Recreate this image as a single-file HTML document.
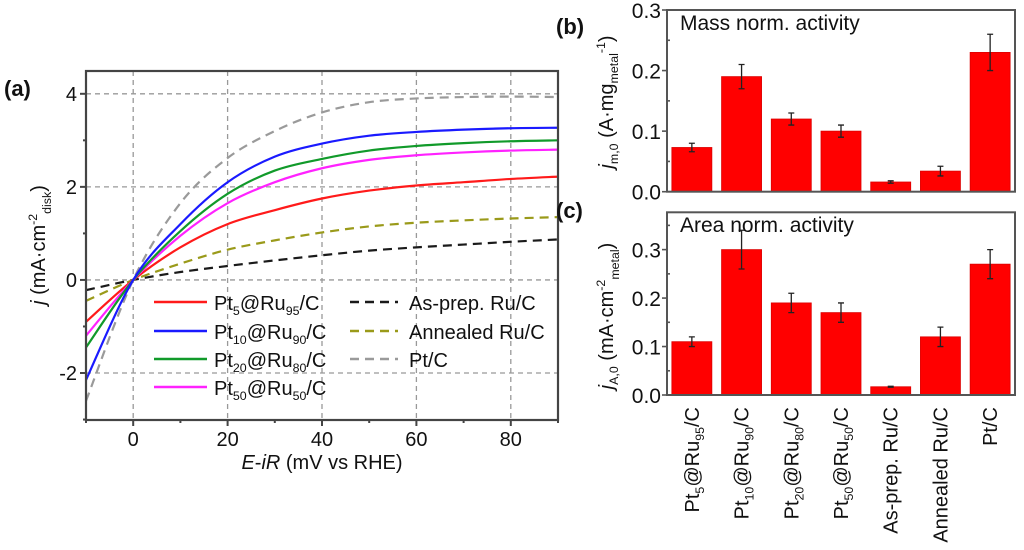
<!DOCTYPE html>
<html><head><meta charset="utf-8"><style>
html,body{margin:0;padding:0;background:#fff;}
svg{display:block;font-family:"Liberation Sans",Arial,sans-serif;}
</style></head><body>
<svg id="fig" width="1024" height="550" viewBox="0 0 1024 550">
<g id="pa"></g>
<g id="pb"></g>
<g id="pc"></g>
</svg>
<script>
// Panel (a) data
const xs = [-10, 0, 10, 20, 30, 40, 50, 60, 70, 80, 90];
const blueY = [-2.15, 0, 1.2, 2.1, 2.65, 2.93, 3.1, 3.18, 3.23, 3.26, 3.27];
const greenY = [-1.45, 0, 1.05, 1.85, 2.35, 2.6, 2.78, 2.88, 2.94, 2.98, 3.0];
const magentaY = [-1.2, 0, 0.95, 1.65, 2.1, 2.4, 2.58, 2.68, 2.74, 2.78, 2.8];
const redY = [-0.9, 0, 0.7, 1.2, 1.5, 1.75, 1.92, 2.03, 2.1, 2.17, 2.22];
const annealedY = [-0.45, 0, 0.35, 0.65, 0.85, 1.02, 1.15, 1.23, 1.28, 1.32, 1.35];
const asprepY = [-0.22, 0, 0.17, 0.3, 0.42, 0.53, 0.63, 0.7, 0.76, 0.82, 0.87];
const ptcY = [-2.6, 0, 1.65, 2.62, 3.2, 3.6, 3.82, 3.9, 3.93, 3.94, 3.93];
const xTicksA = [0, 20, 40, 60, 80];
const yTicksA = [-2, 0, 2, 4];
// Panels (b),(c) data
const cats = ["Pt5@Ru95/C","Pt10@Ru90/C","Pt20@Ru80/C","Pt50@Ru50/C","As-prep. Ru/C","Annealed Ru/C","Pt/C"];
const massVals = [0.073, 0.19, 0.12, 0.10, 0.016, 0.034, 0.23];
const massErr = [0.007, 0.02, 0.01, 0.01, 0.002, 0.008, 0.03];
const areaVals = [0.11, 0.30, 0.19, 0.17, 0.017, 0.12, 0.27];
const areaErr = [0.01, 0.04, 0.02, 0.02, 0.001, 0.02, 0.03];
const yTicksB = [0.0, 0.1, 0.2, 0.3];
const yTicksC = [0.0, 0.1, 0.2, 0.3];

const NS = "http://www.w3.org/2000/svg";
function mk(parent, tag, attrs, text){
  const e = document.createElementNS(NS, tag);
  for (const k in attrs) e.setAttribute(k, attrs[k]);
  if (text !== undefined) e.textContent = text;
  parent.appendChild(e);
  return e;
}

// ---------- Panel A ----------
const A = {l:86, r:558, t:71, b:420, x0:-10, x1:90, y0:-3.01, y1:4.49};
const ax = v => A.l + (v - A.x0) / (A.x1 - A.x0) * (A.r - A.l);
const ay = v => A.b - (v - A.y0) / (A.y1 - A.y0) * (A.b - A.t);
const pa = document.getElementById("pa");
const cp = mk(mk(pa, "defs", {}), "clipPath", {id:"clipA"});
mk(cp, "rect", {x:A.l, y:A.t, width:A.r-A.l, height:A.b-A.t});

xTicksA.forEach(v => {
  const g = mk(pa, "line", {x1:ax(v), x2:ax(v), y1:A.t, y2:A.b, stroke:"#999", "stroke-width":1.3, "stroke-dasharray":"5,4"});
  
  
});
yTicksA.forEach(v => {
  const g = mk(pa, "line", {x1:A.l, x2:A.r, y1:ay(v), y2:ay(v), stroke:"#999", "stroke-width":1.3, "stroke-dasharray":"5,4"});
  
  
});

function smoothPath(xv, yv, fx, fy){
  const p = xv.map((x,i)=>[fx(x), fy(yv[i])]);
  let d = "M" + p[0][0] + "," + p[0][1];
  for (let i=0;i<p.length-1;i++){
    const p0 = p[i-1]||p[i], p1=p[i], p2=p[i+1], p3=p[i+2]||p2;
    const c1x = p1[0]+(p2[0]-p0[0])/6, c1y = p1[1]+(p2[1]-p0[1])/6;
    const c2x = p2[0]-(p3[0]-p1[0])/6, c2y = p2[1]-(p3[1]-p1[1])/6;
    d += " C"+c1x+","+c1y+" "+c2x+","+c2y+" "+p2[0]+","+p2[1];
  }
  return d;
}
const series = [
  {y:asprepY, c:"#1a1a1a", dash:"9,6", n:"asprep-ru-line"},
  {y:annealedY, c:"#9a9a1a", dash:"9,6", n:"annealed-ru-line"},
  {y:ptcY, c:"#9a9a9a", dash:"9,6", n:"pt-c-line"},
  {y:redY, c:"#ff1a1a", dash:"", n:"pt5-ru95-line"},
  {y:magentaY, c:"#ff22ff", dash:"", n:"pt50-ru50-line"},
  {y:greenY, c:"#119a2a", dash:"", n:"pt20-ru80-line"},
  {y:blueY, c:"#1a1aff", dash:"", n:"pt10-ru90-line"},
];
const cg = mk(pa, "g", {"clip-path":"url(#clipA)"});
series.forEach(s => {
  const attrs = {d:smoothPath(xs, s.y, ax, ay), fill:"none", stroke:s.c, "stroke-width":2.2};
  if (s.dash) attrs["stroke-dasharray"] = s.dash;
  const p = mk(cg, "path", attrs);
  
  
});
mk(pa, "rect", {x:A.l, y:A.t, width:A.r-A.l, height:A.b-A.t, fill:"none", stroke:"#444", "stroke-width":2.2,  });
for (let v=-10; v<=90; v+=10){
  const len = (v % 20 === 0) ? 6 : 3;
  mk(pa, "line", {x1:ax(v), x2:ax(v), y1:A.b, y2:A.b+len, stroke:"#444", "stroke-width":2});
}
for (let v=-3; v<=4; v+=1){
  const len = (v % 2 === 0) ? 6 : 3;
  mk(pa, "line", {x1:A.l-len, x2:A.l, y1:ay(v), y2:ay(v), stroke:"#444", "stroke-width":2});
}
xTicksA.forEach(v => {
  const t = mk(pa, "text", {x:ax(v), y:446, "font-size":20, "text-anchor":"middle", fill:"#111"}, String(v));
  
  
});
yTicksA.forEach(v => {
  const t = mk(pa, "text", {x:A.l-9, y:ay(v)+7, "font-size":20, "text-anchor":"end", fill:"#111"}, String(v));
  
  
});
const xt = mk(pa, "text", {x:322, y:469, "font-size":20, "text-anchor":"middle", fill:"#111",  });
xt.innerHTML = '<tspan font-style="italic">E</tspan>-<tspan font-style="italic">iR</tspan> (mV vs RHE)';
const yt = mk(pa, "text", {transform:"translate(45,245) rotate(-90)", "font-size":20, "text-anchor":"middle", fill:"#111",  });
yt.innerHTML = '<tspan font-style="italic">j</tspan> (mA·cm<tspan font-size="0.62em" dy="-8">-2</tspan><tspan font-size="0.62em" dy="14">disk</tspan><tspan dy="-6">)</tspan>';
mk(pa, "text", {x:4, y:96, "font-size":22, "font-weight":"bold", fill:"#111",  }, "(a)");

// legend
const leg = mk(pa, "g", { });
const legL = [
  {c:"#ff1a1a", a:"5", b:"95", y:302},
  {c:"#1a1aff", a:"10", b:"90", y:331},
  {c:"#119a2a", a:"20", b:"80", y:359},
  {c:"#ff22ff", a:"50", b:"50", y:387},
];
legL.forEach(e => {
  mk(leg, "line", {x1:154, x2:207, y1:e.y, y2:e.y, stroke:e.c, "stroke-width":2.4});
  const t = mk(leg, "text", {x:214, y:e.y+8, "font-size":20, fill:"#111",  });
  t.innerHTML = 'Pt<tspan font-size="0.62em" dy="5">'+e.a+'</tspan><tspan dy="-5">@Ru</tspan><tspan font-size="0.62em" dy="5">'+e.b+'</tspan><tspan dy="-5">/C</tspan>';
});
const legR = [
  {c:"#1a1a1a", t:"As-prep. Ru/C", y:302},
  {c:"#9a9a1a", t:"Annealed Ru/C", y:331},
  {c:"#9a9a9a", t:"Pt/C", y:359},
];
legR.forEach(e => {
  mk(leg, "line", {x1:350, x2:398, y1:e.y, y2:e.y, stroke:e.c, "stroke-width":2.4, "stroke-dasharray":"9,6"});
  mk(leg, "text", {x:409, y:e.y+8, "font-size":20, fill:"#111",  }, e.t);
});

// ---------- Bar panels ----------
function barPanel(g, box, vals, errs, ticks, yMax, title, titleY, letter, letterY){
  const by = v => box.b - v / yMax * (box.b - box.t);
  const bw = (box.r - box.l) / cats.length;
  const bx = i => box.l + bw * (i + 0.5);
  vals.forEach((v,i) => {
    const r = mk(g, "rect", {x:bx(i)-20, y:by(v), width:40, height:box.b-by(v), fill:"#ff0000", stroke:"#d00", "stroke-width":0.8});
    
    
    const e = errs[i];
    const eb = mk(g, "path", {d:"M"+bx(i)+","+by(v+e)+" V"+by(v-e)+" M"+(bx(i)-3)+","+by(v+e)+" h6 M"+(bx(i)-3)+","+by(v-e)+" h6", stroke:"#222", "stroke-width":1.3, fill:"none"});
    
    
  });
  mk(g, "rect", {x:box.l, y:box.t, width:box.r-box.l, height:box.b-box.t, fill:"none", stroke:"#555", "stroke-width":2});
  for (let v=0; v<=yMax+1e-9; v+=0.05){
    const major = Math.abs(v*10 - Math.round(v*10)) < 1e-6;
    mk(g, "line", {x1:box.l-(major?5:0), x2:box.l+(major?0:3), y1:by(v), y2:by(v), stroke:"#555", "stroke-width":1.6});
  }
  ticks.forEach(v => {
    const t = mk(g, "text", {x:box.l-6, y:by(v)+8, "font-size":21, "text-anchor":"end", fill:"#111"}, v.toFixed(1));
    
    
  });
  mk(g, "text", {x:680, y:titleY, "font-size":21, fill:"#111",  }, title);
  mk(g, "text", {x:556, y:letterY, "font-size":22, "font-weight":"bold", fill:"#111",  }, letter);
  return bx;
}
const pb = document.getElementById("pb");
const B = {l:667, r:1015, t:10, b:191.7};
barPanel(pb, B, massVals, massErr, yTicksB, 0.3, "Mass norm. activity", 30, "(b)", 34);
const ytb = mk(pb, "text", {transform:"translate(613,102) rotate(-90)", "font-size":20, "text-anchor":"middle", fill:"#111",  });
ytb.innerHTML = '<tspan font-style="italic">j</tspan><tspan font-size="0.62em" dy="5">m,0</tspan><tspan dy="-5"> (A·mg</tspan><tspan font-size="0.62em" dy="5">metal</tspan><tspan font-size="0.62em" dy="-13">-1</tspan><tspan dy="8">)</tspan>';

const pc = document.getElementById("pc");
const C = {l:667, r:1015, t:212.3, b:395};
const bxc = barPanel(pc, C, areaVals, areaErr, yTicksC, 0.377, "Area norm. activity", 232, "(c)", 218);
const ytc = mk(pc, "text", {transform:"translate(613,316) rotate(-90)", "font-size":20, "text-anchor":"middle", fill:"#111",  });
ytc.innerHTML = '<tspan font-style="italic">j</tspan><tspan font-size="0.62em" dy="5">A,0</tspan><tspan dy="-5"> (mA·cm</tspan><tspan font-size="0.62em" dy="-8">-2</tspan><tspan font-size="0.62em" dy="14">metal</tspan><tspan dy="-6">)</tspan>';

cats.forEach((c,i) => {
  const x = bxc(i) + 7;
  const t = mk(pc, "text", {transform:"translate("+x+",407) rotate(-90)", "font-size":20, "text-anchor":"end", fill:"#111"});
  const m = c.match(/^Pt(\d+)@Ru(\d+)\/C$/);
  if (m) {
    t.innerHTML = 'Pt<tspan font-size="0.62em" dy="5">'+m[1]+'</tspan><tspan dy="-5">@Ru</tspan><tspan font-size="0.62em" dy="5">'+m[2]+'</tspan><tspan dy="-5">/C</tspan>';
  } else {
    t.textContent = c;
  }
  
  
});
</script>
</body></html>
